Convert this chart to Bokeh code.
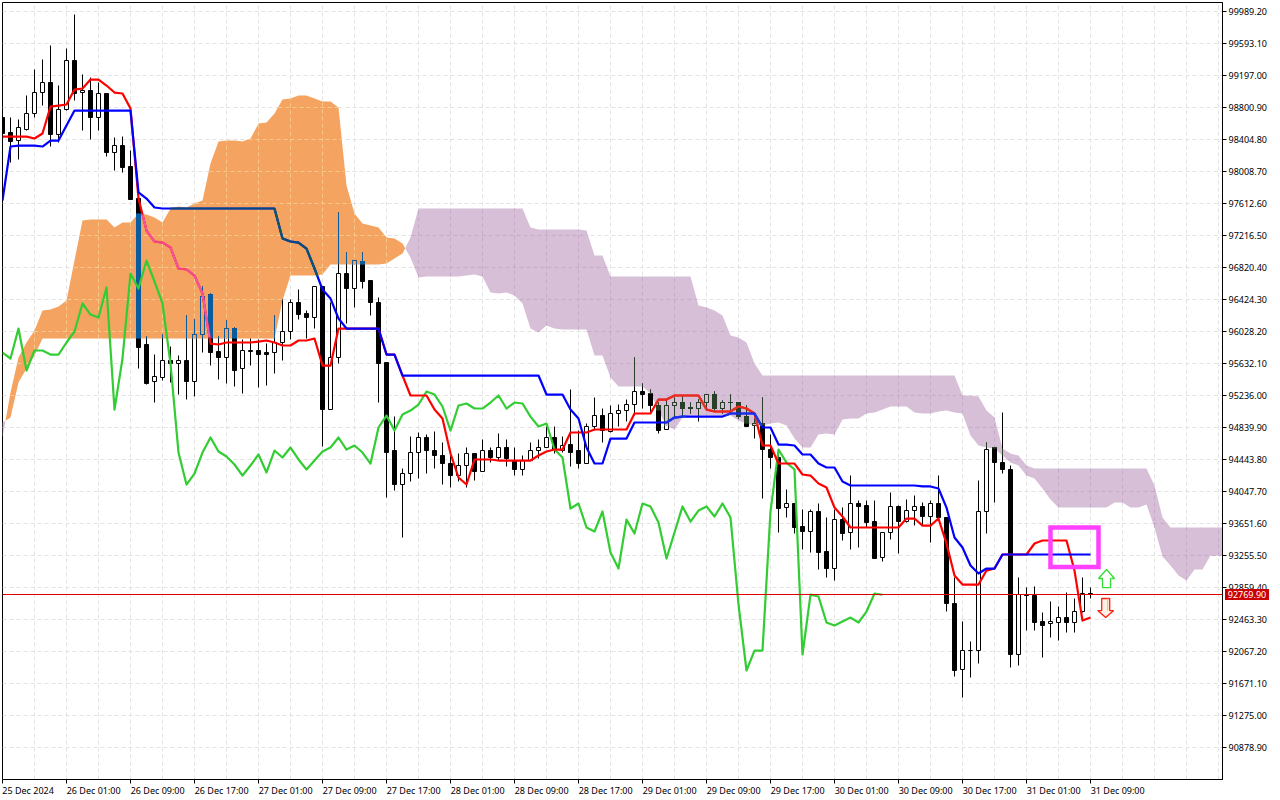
import numpy as np
from bokeh.plotting import figure
from bokeh.models import FixedTicker, NumeralTickFormatter, Span, Div, LinearAxis
from bokeh.embed import file_html
from bokeh.resources import INLINE

open_ = [98665,98491,98392,98528,98726,98986,99110,98466,98775,99382,
 98986,99011,98677,98962,98243,98330,98070,97674,95855,95409,
 95458,95669,95632,95657,95409,95991,96474,95780,95694,96065,
 95570,95780,95793,95768,95756,95892,96028,96375,96251,96201,
 96573,95062,95694,96746,96560,96894,96659,96387,95644,94543,
 94134,94270,94530,94716,94555,94493,94394,94245,94369,94506,
 94283,94555,94468,94592,94431,94320,94431,94543,94592,94716,
 94555,94629,94543,94394,94840,94988,94790,95001,95050,95124,
 95285,95260,95112,94815,95112,95137,95087,95075,95149,95236,
 95075,95149,95137,94975,94864,94889,94567,94468,93849,93899,
 93614,93552,93800,93305,93094,93700,93540,93899,93874,93676,
 93230,93540,93862,93676,93812,93862,93738,93899,93725,92649,
 91844,92079,92079,93800,94580,94406,94320,92030,92772,92760,
 92438,92413,92426,92487,92426,92562,92785]
high = [98665,98677,98640,98949,99259,99394,99556,99061,99531,99952,
 99197,99160,99098,98962,98429,98441,98268,97687,95954,95743,
 95991,95842,95731,96226,96176,96585,96498,95954,96164,96077,
 95917,95941,95917,95879,96226,96424,96412,96548,96288,96573,
 96585,96375,97501,96994,96907,97006,96659,96449,95644,94975,
 94332,94728,94778,94741,94790,94642,94493,94506,94592,94506,
 94691,94580,94765,94679,94580,94493,94654,94679,94840,94840,
 94728,95298,94802,94889,95199,95075,95112,95124,95186,95706,
 95384,95298,95149,95174,95211,95223,95149,95186,95248,95285,
 95174,95248,95149,95112,94951,95199,94753,94567,94072,93899,
 93824,93824,93899,93725,93824,93849,94245,93924,93936,93936,
 93540,94035,93874,93948,93998,93911,93936,94245,93725,92971,
 92438,92190,94183,94654,94592,95025,94369,92983,92859,92871,
 92549,92685,92624,92797,92723,92983,92859]
low = [98392,98108,98145,98504,98677,98825,98318,98367,98763,98887,
 98516,98404,98516,98194,98021,97984,97650,95570,95372,95137,
 95421,95396,95236,95186,95223,95756,95607,95434,95384,95347,
 95260,95595,95335,95359,95508,95657,95929,96176,95941,96065,
 94604,95062,95632,96127,96325,96560,96214,95137,93973,94060,
 93478,94171,94208,94270,94332,94134,94085,94171,94097,94183,
 94283,94406,94431,94345,94245,94245,94431,94456,94592,94518,
 94530,94345,94332,94394,94802,94654,94778,94840,94902,94988,
 95075,95013,94765,94815,94963,94988,95013,94914,95038,95038,
 95013,95013,94951,94840,94703,93961,94332,93540,93725,93527,
 93329,93292,93082,92983,92946,93441,93329,93354,93602,93218,
 93181,93453,93268,93663,93626,93626,93416,93725,92562,91757,
 91497,91745,91918,93527,93911,94270,91857,91893,92327,92327,
 91992,92240,92203,92302,92302,92549,92711]
close = [98479,98380,98541,98726,98986,99110,98466,98775,99382,98974,
 99011,98677,98962,98243,98330,98058,97662,95830,95384,95471,
 95669,95632,95657,95409,95991,96461,95768,95694,96065,95545,
 95793,95793,95743,95743,95892,96028,96375,96238,96201,96573,
 95062,95694,96746,96560,96907,96647,96375,95632,94530,94134,
 94270,94530,94716,94543,94481,94382,94245,94369,94506,94283,
 94555,94468,94592,94444,94320,94431,94543,94592,94716,94567,
 94617,94530,94394,94840,94988,94802,95001,95050,95124,95285,
 95248,95100,94802,95112,95137,95075,95075,95149,95236,95075,
 95149,95137,94975,94852,94889,94567,94468,93837,93899,93602,
 93552,93800,93292,93094,93700,93527,93899,93862,93663,93218,
 93540,93862,93676,93812,93862,93738,93899,93725,92649,91832,
 92079,92079,93800,94567,94406,94320,92030,92772,92748,92426,
 92388,92438,92487,92426,92562,92785,92769.9]

tenkan = [98441,98441,98441,98441,98417,98479,98813,98825,98838,99023,
 99036,99147,99147,99073,98986,98974,98788,97674,97278,97142,
 97129,97068,96808,96796,96721,96498,95879,95867,95892,95892,
 95892,95892,95904,95917,95892,95855,95855,95917,95917,95941,
 95607,95607,96065,96065,96065,96065,96065,96065,95743,95743,
 95483,95236,95236,95236,95062,94951,94518,94221,94134,94444,
 94444,94444,94431,94431,94431,94431,94431,94493,94543,94567,
 94567,94778,94778,94778,94815,94815,94815,94815,94815,95013,
 95013,95013,95186,95186,95236,95236,95236,95236,95062,95038,
 95038,95038,95100,95075,95013,94617,94617,94394,94394,94394,
 94258,94245,94146,94097,93849,93738,93602,93602,93602,93602,
 93602,93602,93602,93713,93713,93626,93626,93713,93404,93008,
 92896,92896,92896,93069,93094,93268,93268,93268,93268,93404,
 93441,93441,93441,93441,93069,92450,92487]
kijun = [97650,98318,98330,98330,98330,98318,98392,98392,98578,98763,
 98763,98763,98763,98763,98763,98763,98763,97749,97674,97563,
 97551,97551,97551,97551,97551,97551,97551,97551,97551,97551,
 97551,97551,97551,97551,97551,97179,97142,97129,97055,96808,
 96548,96436,96189,96065,96065,96065,96065,96065,95743,95743,
 95483,95483,95483,95483,95483,95483,95483,95483,95483,95483,
 95483,95483,95483,95483,95483,95483,95483,95483,95248,95248,
 95248,95062,94951,94592,94394,94394,94703,94703,94703,94902,
 94902,94902,94902,94902,94963,94975,94975,94975,94975,94975,
 94975,95013,95013,95013,95013,94840,94840,94629,94629,94617,
 94506,94506,94394,94345,94345,94171,94122,94122,94122,94122,
 94122,94122,94122,94122,94122,94110,94110,94085,93849,93478,
 93354,93132,93033,93094,93094,93268,93268,93268,93268,93268,
 93268,93268,93268,93268,93268,93268,93268]

span_a = [94716,95273,95706,95892,96040,96288,96300,96337,96412,96907,
 97402,97414,97414,97414,97315,97377,97377,97489,97476,97439,
 97377,97551,97575,97563,97612,97650,98108,98380,98392,98392,
 98380,98417,98603,98615,98726,98899,98912,98949,98949,98912,
 98875,98875,98801,97835,97489,97365,97340,97315,97191,97179,
 97117,96944,96696,96709,96709,96709,96709,96709,96721,96733,
 96709,96511,96498,96511,96474,96375,96065,96016,96102,96065,
 96053,96053,96053,96053,95731,95731,95458,95347,95347,95347,
 95347,95260,95050,94864,94815,94963,94988,94988,94988,94988,
 94988,94988,94926,94889,94864,94864,94889,94902,94864,94703,
 94592,94592,94753,94765,94753,94939,94951,94951,95013,95025,
 95062,95100,95100,95100,95025,95013,95013,95038,95050,95025,
 95013,94741,94617,94592,94580,94493,94406,94369,94245,94208,
 94085,93948,93849,93849,93849,93849,93849,93849,93849,93911,
 93911,93849,93849,93887,93602,93243,93132,93008,92946,93082,
 93082,93255,93255,93255]
span_b = [94902,94963,95396,95570,95731,95941,95941,95941,95941,95941,
 95941,95941,95941,95941,95941,95941,95941,95941,95941,95941,
 95941,95941,95941,95941,95941,95941,95941,95941,95941,95941,
 95941,95941,95941,95941,95941,96412,96721,96721,96721,96721,
 96733,96857,96857,96857,96857,96857,96857,96857,96870,96931,
 96994,97191,97551,97551,97551,97551,97551,97551,97551,97551,
 97551,97551,97551,97551,97551,97551,97315,97291,97291,97291,
 97291,97291,97291,97278,96969,96969,96709,96709,96709,96709,
 96709,96709,96709,96709,96709,96709,96709,96350,96325,96288,
 96226,95978,95954,95892,95632,95483,95483,95483,95483,95483,
 95483,95483,95483,95483,95483,95483,95483,95483,95483,95483,
 95483,95483,95483,95483,95483,95483,95483,95483,95483,95483,
 95236,95236,95223,95050,94963,94580,94518,94493,94369,94332,
 94332,94332,94332,94332,94332,94332,94332,94332,94332,94332,
 94332,94332,94332,94332,94122,93725,93602,93602,93602,93602,
 93602,93602,93602,93602]

price_ticks = [99989.2,99593.1,99197.0,98800.9,98404.8,98008.7,97612.6,97216.5,
 96820.4,96424.3,96028.2,95632.1,95236.0,94839.9,94443.8,94047.7,93651.6,
 93255.5,92859.4,92463.3,92067.2,91671.1,91275.0,90878.9]
time_labels = ["25 Dec 2024","26 Dec 01:00","26 Dec 09:00","26 Dec 17:00","27 Dec 01:00",
 "27 Dec 09:00","27 Dec 17:00","28 Dec 01:00","28 Dec 09:00","28 Dec 17:00",
 "29 Dec 01:00","29 Dec 09:00","29 Dec 17:00","30 Dec 01:00","30 Dec 09:00",
 "30 Dec 17:00","31 Dec 01:00","31 Dec 09:00"]
last_price = 92769.9
box_left, box_right, box_top, box_bottom = 131, 137, 93602, 93113
up_k, up_tip, up_neck, up_base = 138.0, 93082, 92971, 92859
down_k, down_top, down_neck, down_tip = 137.9, 92723, 92574, 92487

ORANGE, PURPLE = "#f4a460", "#d8bfd8"
PX = 396.1 / 32
FONT = "Noto Sans"
FS = "9px"

o, h, l, c = map(np.array, (open_, high, low, close))
a, b = np.array(span_a, float), np.array(span_b, float)
kc = np.arange(len(c))
kk = np.arange(len(a), dtype=float)


def snap(v):
    """Nearest price whose line falls on a whole row of pixels."""
    return 99989.2 - np.floor((99989.2 - v) / PX) * PX


p = figure(width=1280, height=800, output_backend="svg", toolbar_location=None,
           x_range=(0, 152.5),
           y_range=(99989.2 - 768 * PX, 99989.2 + 9 * PX),
           y_axis_location="right", min_border_left=2, min_border_right=58,
           min_border_top=2, min_border_bottom=21, background_fill_color="white",
           border_fill_color="white")
p.margin = (0, 0, 0, 0)
p.outline_line_color = "black"

xt = list(range(0, 137, 8))
tick_axis = p.xaxis[0]
tick_axis.ticker = FixedTicker(ticks=xt)
tick_axis.major_label_overrides = {k: "" for k in xt}
tick_axis.major_label_text_color = None
tick_axis.major_label_standoff = 0
tick_axis.major_label_text_font_size = "1px"
p.yaxis.ticker = FixedTicker(ticks=price_ticks)
p.yaxis.formatter = NumeralTickFormatter(format="0.00")
for ax in (tick_axis, p.yaxis[0]):
    ax.major_tick_in = 0
    ax.major_tick_out = 4
    ax.minor_tick_in = 0
    ax.minor_tick_out = 0
    ax.axis_line_color = "black"
    ax.major_tick_line_color = "black"
yax = p.yaxis[0]
yax.major_label_text_color = "black"
yax.major_label_text_font = FONT
yax.major_label_text_font_size = FS
yax.major_label_standoff = 2

# the labels start at their tick: a second axis carries them, centred half a label further on
label_at = [k + (3.2 if k == 0 else 3.4) for k in xt]
label_axis = LinearAxis(ticker=FixedTicker(ticks=label_at),
                        major_label_overrides={k: s for k, s in zip(label_at, time_labels)},
                        axis_line_color=None, major_tick_line_color=None, minor_tick_line_color=None,
                        major_tick_in=0, major_tick_out=0, minor_tick_in=0, minor_tick_out=0,
                        major_label_standoff=0, major_label_text_color="black",
                        major_label_text_font=FONT, major_label_text_font_size=FS)
p.add_layout(label_axis, "below")

p.xgrid.ticker = FixedTicker(ticks=list(range(4, 153, 4)))
p.ygrid.ticker = FixedTicker(ticks=price_ticks)
for g in (p.xgrid[0], p.ygrid[0]):
    g.grid_line_color = "#e3e3e3"
    g.grid_line_dash = "4 3"
    g.grid_line_width = 1

# cloud, with its one-off crossings inserted
xs, ya, yb = [kk[0]], [a[0]], [b[0]]
for i in range(1, len(a)):
    d0, d1 = a[i - 1] - b[i - 1], a[i] - b[i]
    if d0 * d1 < 0:
        t = d0 / (d0 - d1)
        v = a[i - 1] + t * (a[i] - a[i - 1])
        xs.append(kk[i - 1] + t); ya.append(v); yb.append(v)
    xs.append(kk[i]); ya.append(a[i]); yb.append(b[i])
xs, ya, yb = map(np.array, (xs, ya, yb))
lo = np.minimum(ya, yb)
p.varea(xs, ya, lo, fill_color=ORANGE)
p.varea(xs, yb, lo, fill_color=PURPLE)

# grid seen through the cloud
gx0, gx1, gy0, gy1, gc = [], [], [], [], []
for k in range(4, 153, 4):
    gx0.append(k); gx1.append(k)
    gy0.append(min(a[k], b[k])); gy1.append(max(a[k], b[k]))
    gc.append("#f7c98a" if a[k] > b[k] else "#c6abc9")
fine = np.arange(0, 152.45, 0.125)
fa, fb = np.interp(fine, kk, a), np.interp(fine, kk, b)
for pr in price_ticks:
    inside = (np.minimum(fa, fb) < pr) & (pr < np.maximum(fa, fb))
    i = 0
    while i < len(fine):
        if inside[i]:
            j = i
            while j + 1 < len(fine) and inside[j + 1] and (fa[j + 1] > fb[j + 1]) == (fa[i] > fb[i]):
                j += 1
            gx0.append(fine[i]); gx1.append(fine[j]); gy0.append(pr); gy1.append(pr)
            gc.append("#f7c98a" if fa[i] > fb[i] else "#c6abc9")
            i = j + 1
        else:
            i += 1
p.segment(gx0, gy0, gx1, gy1, line_color=gc, line_width=1, line_dash="4 3")

# candles
up = c >= o
top, bot = snap(np.maximum(o, c)), snap(np.minimum(o, c))
hs, ls = snap(h), snap(l)
p.segment(kc, hs, kc, ls, line_color="black", line_width=1)
p.patches([[k - 0.25, k + 0.25, k + 0.25, k - 0.25] for k in kc],
          [[top[k], top[k], bot[k], bot[k]] for k in kc],
          fill_color=["white" if u else "black" for u in up], line_color="black", line_width=1)

# candle parts inside the cloud take the inverted cloud colour
wx, wy0, wy1, wc = [], [], [], []
bxs, bys, bf = [], [], []
ex0, ex1, ey0, ey1, ec = [], [], [], [], []
for k in kc:
    blo, bhi = min(a[k], b[k]), max(a[k], b[k])
    orange = a[k] > b[k]
    inv = "#0b5b9f" if orange else "#274027"
    fill = ORANGE if orange else PURPLE
    w0, w1 = max(ls[k], blo), min(hs[k], bhi)
    if w1 > w0:
        wx.append(k); wy0.append(w0); wy1.append(w1); wc.append(inv)
    t0, t1 = max(bot[k], blo), min(top[k], bhi)
    if t1 >= t0:
        bxs.append([k - 0.25, k + 0.25, k + 0.25, k - 0.25])
        bys.append([t1, t1, t0, t0])
        bf.append(fill if up[k] else inv)
        for s in (-0.25, 0.25):
            ex0.append(k + s); ex1.append(k + s); ey0.append(t0); ey1.append(t1); ec.append(inv)
        for edge in (top[k], bot[k]):
            if blo <= edge <= bhi:
                ex0.append(k - 0.25); ex1.append(k + 0.25); ey0.append(edge); ey1.append(edge); ec.append(inv)
p.segment(wx, wy0, wx, wy1, line_color=wc, line_width=1)
p.patches(bxs, bys, fill_color=bf, line_color=None)
p.segment(ex0, ey0, ex1, ey1, line_color=ec, line_width=1)


def through_cloud(y, in_orange, in_purple):
    x0, x1, y0, y1, col = [], [], [], [], []
    for i in range(len(y) - 1):
        for j in range(8):
            xa, xb = i + j / 8, i + (j + 1) / 8
            va = y[i] + (y[i + 1] - y[i]) * j / 8
            vb = y[i] + (y[i + 1] - y[i]) * (j + 1) / 8
            xm, vm = (xa + xb) / 2, (va + vb) / 2
            am, bm = np.interp(xm, kk, a), np.interp(xm, kk, b)
            if min(am, bm) < vm < max(am, bm):
                x0.append(xa); x1.append(xb); y0.append(va); y1.append(vb)
                col.append(in_orange if am > bm else in_purple)
    return x0, y0, x1, y1, col


LW = 2.2
p.line(kc[:len(c) - 26], c[26:], line_color="#32cd32", line_width=LW, line_join="round")
p.line(kc, tenkan, line_color="#ff0000", line_width=LW, line_join="round")
s = through_cloud(tenkan, "#f25aa8", "#df3a28")
p.segment(s[0], s[1], s[2], s[3], line_color=s[4], line_width=LW)
p.line(kc, kijun, line_color="#0000ff", line_width=LW, line_join="round")
s = through_cloud(kijun, "#0b5b60", "#2040e0")
p.segment(s[0], s[1], s[2], s[3], line_color=s[4], line_width=LW)

p.add_layout(Span(location=float(snap(last_price)), dimension="width", line_color="#e00000", line_width=1))

p.quad(left=[box_left], right=[box_right], top=[box_top], bottom=[box_bottom],
       fill_alpha=0, line_color="#ff40ff", line_width=4.5, line_join="miter")

p.patch([up_k, up_k + 1, up_k + 0.5, up_k + 0.5, up_k - 0.5, up_k - 0.5, up_k - 1, up_k],
        [up_tip, up_neck, up_neck, up_base, up_base, up_neck, up_neck, up_tip],
        fill_color="white", line_color="#33dd33", line_width=1.3)
p.line([up_k + 0.62, up_k + 0.62], [up_neck, up_base], line_color="#aaffff", line_width=1)
p.patch([down_k, down_k + 1, down_k + 0.5, down_k + 0.5, down_k - 0.5, down_k - 0.5, down_k - 1, down_k],
        [down_tip, down_neck, down_neck, down_top, down_top, down_neck, down_neck, down_tip],
        fill_color="#fff0e8", line_color="#ff2010", line_width=1.3)
p.line([down_k + 0.25, down_k + 0.25], [down_neck, down_top], line_color="#ffb070", line_width=1)

price_tag = Div(text="%.2f" % last_price, width=44, height=11, margin=0,
                styles={"position": "absolute", "left": "1225px", "top": "589px", "width": "44px",
                        "height": "11px", "background-color": "#cc0000", "color": "white",
                        "font-family": FONT, "font-size": FS, "line-height": "11px",
                        "text-align": "center", "z-index": "10"})
p.elements = [price_tag]

open("out.html", "w").write(file_html(p, INLINE))
